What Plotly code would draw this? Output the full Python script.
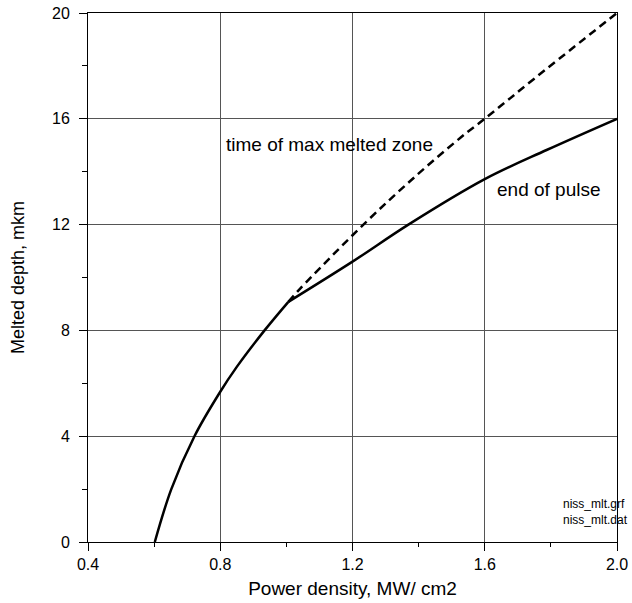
import plotly.graph_objects as go

# Solid curve: end of pulse
end_x = [0.602, 0.652, 0.722, 0.800, 0.850, 0.934, 1.006, 1.200, 1.369, 1.600, 1.787, 2.000]
end_y = [0.00, 2.00, 4.00, 5.68, 6.62, 8.00, 9.08, 10.60, 12.00, 13.72, 14.82, 16.00]
kink_index = 6  # the curve has a sharp bend at x = 1.006

# Dashed curve: time of max melted zone
max_x = [1.006, 1.041, 1.233, 1.389, 1.530, 1.600, 1.757, 2.000]
max_y = [9.08, 9.57, 12.00, 13.81, 15.32, 16.00, 17.59, 20.00]

x_ticks = [0.4, 0.8, 1.2, 1.6, 2.0]
x_ticklabels = ["0.4", "0.8", "1.2", "1.6", "2.0"]
y_ticks = [0, 4, 8, 12, 16, 20]

FONT = "Liberation Sans, Arial, sans-serif"

fig = go.Figure()
fig.add_trace(go.Scatter(x=max_x, y=max_y, mode="lines",
                         line=dict(color="black", width=2.5, dash="8px,5px", shape="spline", smoothing=1.0),
                         showlegend=False, hoverinfo="skip"))
for sl in (slice(0, kink_index + 1), slice(kink_index, None)):
    fig.add_trace(go.Scatter(x=end_x[sl], y=end_y[sl], mode="lines",
                             line=dict(color="black", width=2.5, shape="spline", smoothing=1.0),
                             showlegend=False, hoverinfo="skip"))

fig.update_layout(
    width=632, height=603,
    margin=dict(l=88, r=15, t=13, b=61, autoexpand=False),
    paper_bgcolor="white", plot_bgcolor="white",
    font=dict(family=FONT, color="black"),
    xaxis=dict(
        range=[0.4, 2.0], tickvals=x_ticks, ticktext=x_ticklabels,
        automargin=False,
        showgrid=True, gridcolor="#555555", gridwidth=1,
        showline=True, linecolor="black", linewidth=1, mirror=True,
        ticks="outside", ticklen=8, tickcolor="black", tickwidth=1,
        minor=dict(dtick=0.2, tick0=0.4, ticks="outside", ticklen=4, tickcolor="black", showgrid=False),
        tickfont=dict(size=16), ticklabelstandoff=0,
        zeroline=False,
        title=dict(text="Power density, MW/ cm2", font=dict(size=19), standoff=9),
    ),
    yaxis=dict(
        range=[0, 20], tickvals=y_ticks,
        automargin=False,
        showgrid=True, gridcolor="#555555", gridwidth=1,
        showline=True, linecolor="black", linewidth=1, mirror=True,
        ticks="outside", ticklen=8, tickcolor="black", tickwidth=1,
        minor=dict(dtick=2, tick0=0, ticks="outside", ticklen=5, tickcolor="black", showgrid=False),
        tickfont=dict(size=16), ticklabelstandoff=6,
        zeroline=False,
        title=dict(text="Melted depth, mkm", font=dict(size=18), standoff=22),
    ),
    annotations=[
        dict(x=1.129, y=15.01, xref="x", yref="y", text="time of max melted zone",
             showarrow=False, font=dict(size=19), xanchor="center", yanchor="middle"),
        dict(x=1.794, y=13.31, xref="x", yref="y", text="end of pulse",
             showarrow=False, font=dict(size=19), xanchor="center", yanchor="middle"),
        dict(x=1.83, y=1.15, xref="x", yref="y", text="niss_mlt.grf<br>niss_mlt.dat",
             showarrow=False, font=dict(size=12), xanchor="left", yanchor="middle", align="left"),
    ],
)

fig.write_html("out.html", config={"displayModeBar": False},
               post_script="document.body.style.margin='0px';document.body.style.padding='0px';")
